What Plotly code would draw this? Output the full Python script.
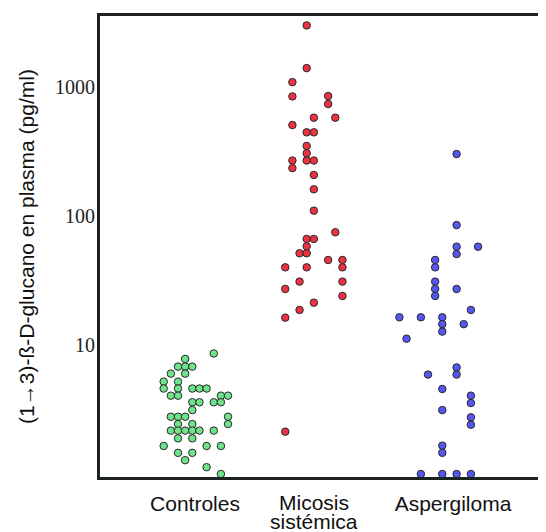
import plotly.graph_objects as go

categories = ["Controles", "Micosis", "Aspergiloma"]
category_label_pos = [95, 214, 353]
cluster_centers = [92.3, 206.7, 342.3]
slot_width = 7.15

controles_values = [8.6, 7.8, 6.8, 6.8, 6.8, 6.0, 6.0, 5.2, 5.2,
                    4.6, 4.6, 4.6, 4.6, 4.6, 4.05, 4.05, 4.05, 4.05,
                    3.6, 3.6, 3.6, 3.6, 3.13, 2.78, 2.78, 2.78, 2.78,
                    2.44, 2.44, 2.44, 2.17, 2.17, 2.17, 2.17, 2.17, 2.17,
                    1.89, 1.89, 1.65, 1.65, 1.65, 1.46, 1.46, 1.28, 1.13, 1.0]
controles_slots = [3, -1, -2, -1, 0, -3, -1, -4, -2,
                   -4, -2, 0, 1, 2, -3, -2, 4, 5,
                   0, 1, 3, 4, 0, -3, -2, -1, 5,
                   -2, 0, 5, -3, -2, -1, 0, 1, 3,
                   -2, 0, -4, 2, 4, -2, 0, -1, 2, 4]

micosis_values = [3000, 1400, 1090, 845, 850, 738, 578, 578, 507, 445, 445,
                  349, 306, 269, 269, 269, 235, 208, 161, 110, 74.8,
                  66.4, 66.4, 58.2, 51.4, 51.4, 45.6, 45.6, 40, 40, 40,
                  31, 31, 27.2, 24, 21.3, 18.7, 16.3, 2.13]
micosis_slots = [0, 0, -2, -2, 3, 3, 1, 4, -2, 0, 1,
                 0, 0, -2, 0, 1, -2, 1, 1, 1, 4,
                 0, 1, 0, -1, 0, 3, 5, -3, 0, 5,
                 -1, 5, -3, 5, 1, -1, -3, -3]

aspergiloma_values = [302, 85, 57.8, 57.8, 50.7, 45.6, 40, 31, 27.2, 27.2, 24,
                      18.7, 16.4, 16.4, 16.4, 14.5, 14.5, 12.7, 11.2,
                      6.7, 5.9, 5.9, 4.56, 4.05, 3.55, 3.13, 2.75, 2.41,
                      1.66, 1.46, 1.0, 1.0, 1.0, 1.0]
aspergiloma_slots = [2, 2, 2, 5, 2, -1, -1, -1, -1, 2, -1,
                     4, -6, -3, 0, 0, 3, 0, -5,
                     2, -2, 2, 0, 4, 4, 0, 4, 4,
                     0, 0, -3, 0, 2, 4]

colors = ["#6fe28c", "#ea3242", "#5555f0"]
series = [(controles_values, controles_slots),
          (micosis_values, micosis_slots),
          (aspergiloma_values, aspergiloma_slots)]

fig = go.Figure()
for i, (vals, slots) in enumerate(series):
    xs = [cluster_centers[i] + s * slot_width for s in slots]
    fig.add_trace(go.Scatter(
        x=xs, y=vals, mode="markers",
        marker=dict(size=7.5, color=colors[i], line=dict(color="#2a2a2a", width=1)),
        showlegend=False, hoverinfo="y"))

axis_color = "#1c2121"
label_font = dict(family="Liberation Sans", size=21, color="#111")
# the two-line label is drawn as two tight annotations
tick_text = [categories[0], "", categories[2]]
fig.update_layout(
    width=538, height=524,
    margin=dict(l=92, r=0, t=8, b=55),
    plot_bgcolor="white", paper_bgcolor="white",
    xaxis=dict(range=[0, 446], showgrid=False, zeroline=False, automargin=False,
               showline=True, linewidth=3, linecolor=axis_color, mirror=True,
               tickvals=category_label_pos, ticktext=tick_text,
               ticks="", ticklabelstandoff=6, tickfont=label_font),
    yaxis=dict(type="log", range=[-0.023, 3.55], showgrid=False, zeroline=False,
               automargin=False,
               showline=True, linewidth=3, linecolor=axis_color, mirror=False,
               tickvals=[10, 100, 1000], ticktext=["10", "100", "1000"],
               ticks="", ticklabelstandoff=-2,
               tickfont=dict(family="Liberation Serif", size=20, color="#222"),
               title=dict(text="(1→3)-ß-D-glucano en plasma (pg/ml)",
                          font=dict(family="Liberation Sans", size=21, color="#111"))),
    annotations=[
        dict(text=categories[1], x=category_label_pos[1], xref="x",
             y=0, yref="paper", yanchor="middle", yshift=-25,
             height=18, valign="middle", showarrow=False, font=label_font),
        dict(text="sistémica", x=category_label_pos[1], xref="x",
             y=0, yref="paper", yanchor="middle", yshift=-44,
             height=18, valign="middle", showarrow=False, font=label_font),
    ],
)
fig.write_html("out.html")
